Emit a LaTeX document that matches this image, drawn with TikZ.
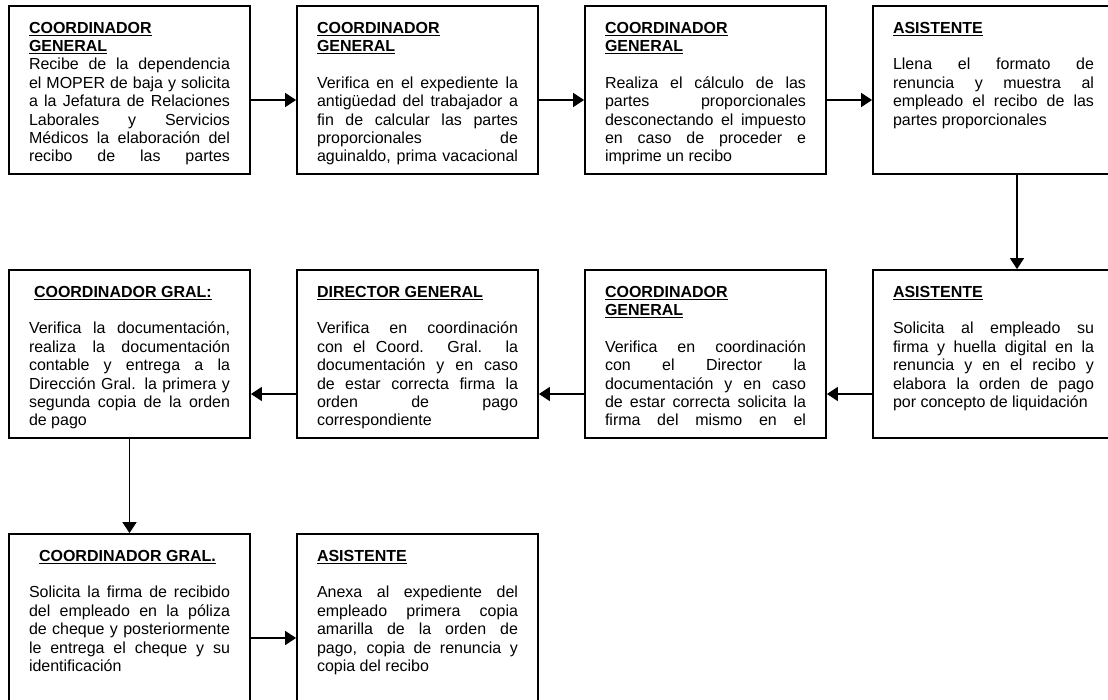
\documentclass[tikz,border=0pt]{standalone}
\usepackage{fontspec}
\setmainfont{Liberation Sans}
\usetikzlibrary{positioning, arrows.meta}

\newcommand{\linea}[1]{\makebox[\linewidth][s]{#1}\\}
\newcommand{\titulo}[1]{\underline{\textbf{#1}}}
\newcommand{\caja}[1]{\parbox[c][136pt][t]{201pt}{\fontsize{16}{18.4}\selectfont #1}}

\tikzset{
	paso/.style={draw, rectangle, line width=1.8pt, inner sep=0pt, minimum width=241pt, minimum height=168pt},
}

\begin{document}
\begin{tikzpicture}[node distance=264pt and 288pt, on grid, >={Triangle[length=11pt,width=14pt]}, line width=1.4pt]

	\useasboundingbox (0,0) rectangle (1108pt,-700pt);

% Upper row
	\node (coord_recibe)	[paso] at (129.5pt,-90pt)	{\caja{\titulo{COORDINADOR}\\ \titulo{GENERAL}\\
		\linea{Recibe de la dependencia}
		\linea{el MOPER de baja y solicita}
		\linea{a la Jefatura de Relaciones}
		\linea{Laborales y Servicios}
		\linea{Médicos la elaboración del}
		\makebox[\linewidth][s]{recibo de las partes}}};
	\node (coord_verifica)	[paso, right=of coord_recibe]	{\caja{\titulo{COORDINADOR}\\ \titulo{GENERAL}\\[18.4pt]
		\linea{Verifica en el expediente la}
		\linea{antigüedad del trabajador a}
		\linea{fin de calcular las partes}
		\linea{proporcionales de}
		\makebox[\linewidth][s]{aguinaldo, prima vacacional}}};
	\node (coord_calculo)	[paso, right=of coord_verifica]	{\caja{\titulo{COORDINADOR}\\ \titulo{GENERAL}\\[18.4pt]
		\linea{Realiza el cálculo de las}
		\linea{partes proporcionales}
		\linea{desconectando el impuesto}
		\linea{en caso de proceder e}
		imprime un recibo}};
	\node (asist_formato)	[paso, right=of coord_calculo]	{\caja{\titulo{ASISTENTE}\\[18.4pt]
		\linea{Llena el formato de}
		\linea{renuncia y muestra al}
		\linea{empleado el recibo de las}
		partes proporcionales}};

% Middle row
	\node (asist_firma)		[paso, below=of asist_formato]	{\caja{\titulo{ASISTENTE}\\[18.4pt]
		\linea{Solicita al empleado su}
		\linea{firma y huella digital en la}
		\linea{renuncia y en el recibo y}
		\linea{elabora la orden de pago}
		por concepto de liquidación}};
	\node (coord_director)	[paso, left=of asist_firma]	{\caja{\titulo{COORDINADOR}\\ \titulo{GENERAL}\\[18.4pt]
		\linea{Verifica en coordinación}
		\linea{con el Director la}
		\linea{documentación y en caso}
		\linea{de estar correcta solicita la}
		\makebox[\linewidth][s]{firma del mismo en el}}};
	\node (director)		[paso, left=of coord_director]	{\caja{\titulo{DIRECTOR GENERAL}\\[18.4pt]
		\linea{Verifica en coordinación}
		\linea{con el Coord. Gral. la}
		\linea{documentación y en caso}
		\linea{de estar correcta firma la}
		\linea{orden de pago}
		correspondiente}};
	\node (coord_contable)	[paso, left=of director]	{\caja{\hspace*{5pt}\titulo{COORDINADOR GRAL:}\\[18.4pt]
		\linea{Verifica la documentación,}
		\linea{realiza la documentación}
		\linea{contable y entrega a la}
		\linea{Dirección Gral. la primera y}
		\linea{segunda copia de la orden}
		de pago}};

% Lower row
	\node (coord_cheque)	[paso, below=of coord_contable]	{\caja{\hspace*{10pt}\titulo{COORDINADOR GRAL.}\\[18.4pt]
		\linea{Solicita la firma de recibido}
		\linea{del empleado en la póliza}
		\linea{de cheque y posteriormente}
		\linea{le entrega el cheque y su}
		identificación}};
	\node (asist_anexa)		[paso, right=of coord_cheque]	{\caja{\titulo{ASISTENTE}\\[18.4pt]
		\linea{Anexa al expediente del}
		\linea{empleado primera copia}
		\linea{amarilla de la orden de}
		\linea{pago, copia de renuncia y}
		copia del recibo}};

% Arrows
	\path[->]
		([yshift=-10pt]coord_recibe.east)	edge ([yshift=-10pt]coord_verifica.west)
		([yshift=-10pt]coord_verifica.east)	edge ([yshift=-10pt]coord_calculo.west)
		([yshift=-10pt]coord_calculo.east)	edge ([yshift=-10pt]asist_formato.west)
		([xshift=23.5pt]asist_formato.south)	edge ([xshift=23.5pt]asist_firma.north)

		([yshift=-40pt]asist_firma.west)	edge ([yshift=-40pt]coord_director.east)
		([yshift=-40pt]coord_director.west)	edge ([yshift=-40pt]director.east)
		([yshift=-40pt]director.west)		edge ([yshift=-40pt]coord_contable.east)
		(coord_contable.south)			edge (coord_cheque.north)

		([yshift=-20pt]coord_cheque.east)	edge ([yshift=-20pt]asist_anexa.west)
	;

\end{tikzpicture}
\end{document}
